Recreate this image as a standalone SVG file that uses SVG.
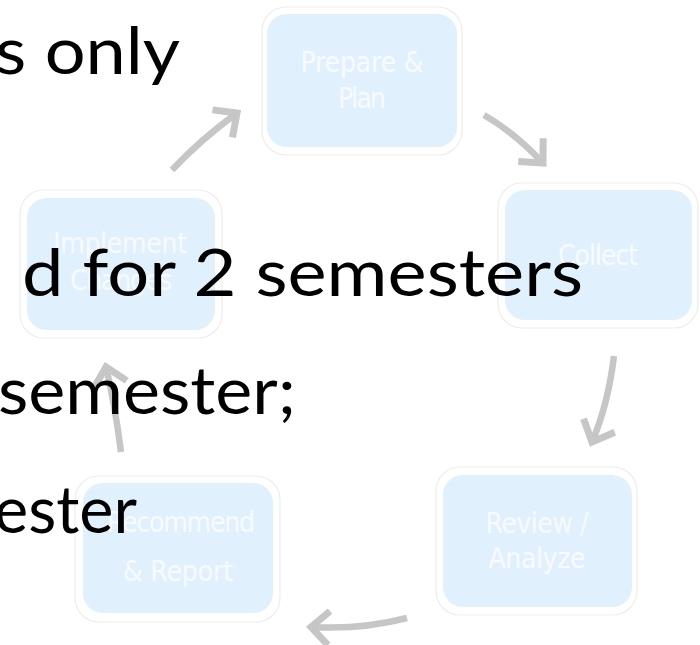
<svg xmlns="http://www.w3.org/2000/svg" width="700" height="645" viewBox="0 0 700 645">
  <style>
    .frame { fill: #ffffff; stroke: #ededed; stroke-width: 1.2; }
    .panel { fill: #e1f0fd; }
    .label { font-family: "DejaVu Sans Condensed", "DejaVu Sans", sans-serif; font-stretch: condensed; font-size: 28px; fill: #f7fbff; text-anchor: middle; }
    .flow { fill: none; stroke: #c6c6c6; stroke-width: 6.5; }
    .body { font-family: Lato, "Liberation Sans", sans-serif; font-size: 66px; fill: #000000; }
  </style>
  <defs>
    <marker id="chevron" markerUnits="userSpaceOnUse" viewBox="-26 -26 32 52" refX="0" refY="0" markerWidth="32" markerHeight="52" orient="auto" overflow="visible">
      <polyline points="-18,-17 0,0 -18,17" fill="none" stroke="#c6c6c6" stroke-width="7" stroke-linejoin="miter"/>
    </marker>
  </defs>
  <rect width="700" height="645" fill="#ffffff"/>

  <!-- cycle steps -->
  <g id="prepare">
    <rect class="frame" x="262" y="7" width="200" height="148" rx="24"/>
    <rect class="panel" x="267" y="14" width="190" height="133" rx="20"/>
    <text class="label" x="362" y="72" textLength="123">Prepare &amp;</text>
    <text class="label" x="362" y="108" textLength="48">Plan</text>
  </g>
  <g id="collect">
    <rect class="frame" x="498" y="183" width="200" height="145" rx="24"/>
    <rect class="panel" x="505" y="190" width="187" height="130" rx="20"/>
    <text class="label" x="598" y="265" textLength="80">Collect</text>
  </g>
  <g id="review">
    <rect class="frame" x="436" y="467" width="201" height="148" rx="24"/>
    <rect class="panel" x="443" y="475" width="189" height="132" rx="20"/>
    <text class="label" x="537" y="533" textLength="103">Review /</text>
    <text class="label" x="537" y="568" textLength="97">Analyze</text>
  </g>
  <g id="recommend">
    <rect class="frame" x="75" y="476" width="205" height="146" rx="24"/>
    <rect class="panel" x="83" y="483" width="190" height="130" rx="20"/>
    <text class="label" x="181" y="532" textLength="148">Recommend</text>
    <text class="label" x="178" y="581" textLength="110">&amp; Report</text>
  </g>
  <g id="implement">
    <rect class="frame" x="20" y="190" width="202" height="148" rx="24"/>
    <rect class="panel" x="27" y="198" width="188" height="132" rx="20"/>
    <text class="label" x="120" y="253" textLength="134">Implement</text>
    <text class="label" x="121" y="290" textLength="102">Changes</text>
  </g>

  <!-- connectors -->
  <g id="connectors">
    <path class="flow" d="M172,170 Q200,140 237,113" marker-end="url(#chevron)"/>
    <path class="flow" d="M484,115 Q515,133 543,163" marker-end="url(#chevron)"/>
    <path class="flow" d="M614,356 Q608,405 592,442" marker-end="url(#chevron)"/>
    <path class="flow" d="M407,618 Q360,630 311,627" marker-end="url(#chevron)"/>
    <path class="flow" d="M121,452 Q115,405 106,367" marker-end="url(#chevron)"/>
  </g>

  <!-- overlaid body text -->
  <g id="body-text">
    <text class="body" x="-5" y="74" textLength="185" lengthAdjust="spacingAndGlyphs">s only</text>
    <text class="body" x="22" y="296" textLength="561" lengthAdjust="spacingAndGlyphs">d for 2 semesters</text>
    <text class="body" x="-2" y="414" textLength="298" lengthAdjust="spacingAndGlyphs">semester;</text>
    <text class="body" x="-6" y="533" textLength="143" lengthAdjust="spacingAndGlyphs">ester</text>
  </g>
</svg>
